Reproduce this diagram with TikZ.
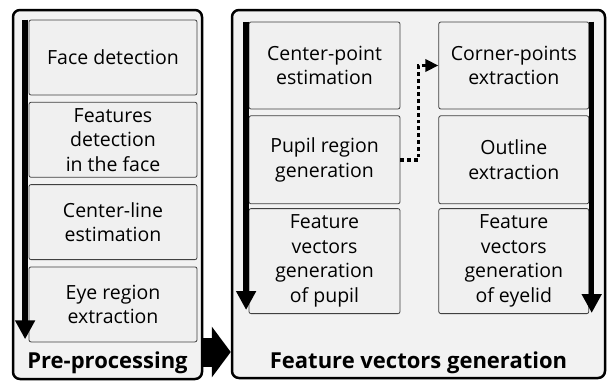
\documentclass[tikz,border=0pt]{standalone}
\usepackage{fontspec}
\setmainfont{Open Sans}
\usetikzlibrary{positioning, arrows.meta}

\begin{document}
\begin{tikzpicture}[
  x=1pt, y=-1pt,
  bloc/.style={draw=black, line width=2.5pt, rounded corners=7pt,
               fill=black!5, inner sep=0pt},
  etape/.style={draw=black!75, line width=0.8pt, rounded corners=2pt,
                fill=black!6, align=center, inner sep=2pt,
                font=\fontsize{19.5}{24.5}\selectfont},
  titre/.style={font=\fontsize{22}{24}\selectfont\bfseries},
  flux/.style={line width=5.5pt, -{Triangle[length=19pt, width=19pt]}},
  saut/.style={line width=3.8pt, dash pattern=on 3.8pt off 3pt,
               -{Triangle[length=13pt, width=12pt]}},
  passage/.style={line width=29pt, -{Triangle[length=19pt, width=50pt]}}
]
  \useasboundingbox (0,0) rectangle (607,380);

  %=========================================================
  % 1. Les deux grands blocs
  %=========================================================
  \node[bloc, minimum width=189pt, minimum height=369pt] (pre) at (107.5,194.5) {};
  \node[bloc, minimum width=373pt, minimum height=368pt] (fvg) at (418.5,194) {};

  \node[titre] (lblpre) at ([yshift=17pt]pre.south) {Pre-processing};
  \node[titre] (lblfvg) at ([yshift=16pt]fvg.south) {Feature vectors generation};

  % fleche pleine entre les blocs
  \draw[passage] ([yshift=-157.5pt]pre.east) -- ([yshift=-158pt]fvg.west);

  %=========================================================
  % 2. Pre-processing : quatre etapes
  %=========================================================
  \node[etape, minimum width=168pt, minimum height=75pt] (face) at (113,57.5)
    {Face detection};
  \node[etape, minimum width=168pt, minimum height=75pt, below=6.5pt of face] (feat)
    {Features\\detection\\in the face};
  \node[etape, minimum width=168pt, minimum height=75pt, below=6.5pt of feat] (cline)
    {Center-line\\estimation};
  \node[etape, minimum width=168pt, minimum height=75pt, below=6.5pt of cline] (eyereg)
    {Eye region\\extraction};

  \draw[flux] ([xshift=-3.5pt]face.north west) -- ([xshift=-3.5pt,yshift=3pt]eyereg.south west);

  %=========================================================
  % 3. Feature vectors : pupille a gauche, paupiere a droite
  %=========================================================
  \node[etape, minimum width=151pt, minimum height=87pt] (cpoint) at (324.5,65.5)
    {Center-point\\estimation};
  \node[etape, minimum width=151pt, minimum height=88pt, below=6pt of cpoint] (pupil)
    {Pupil region\\generation};
  \node[etape, minimum width=151pt, minimum height=105pt, below=4pt of pupil] (fvpupil)
    {Feature\\vectors\\generation\\of pupil};

  \node[etape, minimum width=150pt, minimum height=87pt, right=38pt of cpoint] (corner)
    {Corner-points\\extraction};
  \node[etape, minimum width=150pt, minimum height=88pt, below=6pt of corner] (outline)
    {Outline\\extraction};
  \node[etape, minimum width=150pt, minimum height=105pt, below=4pt of outline] (fveyelid)
    {Feature\\vectors\\generation\\of eyelid};

  \draw[flux] ([xshift=-2.5pt]cpoint.north west) -- ([xshift=-2.5pt,yshift=4pt]fvpupil.south west);
  \draw[flux] ([xshift=2.5pt]corner.north east) -- ([xshift=2.5pt,yshift=1pt]fveyelid.south east);

  % passage pointille vers les coins
  \draw[saut] (pupil.east) -- ++(18,0) |- (corner.west);

\end{tikzpicture}
\end{document}
